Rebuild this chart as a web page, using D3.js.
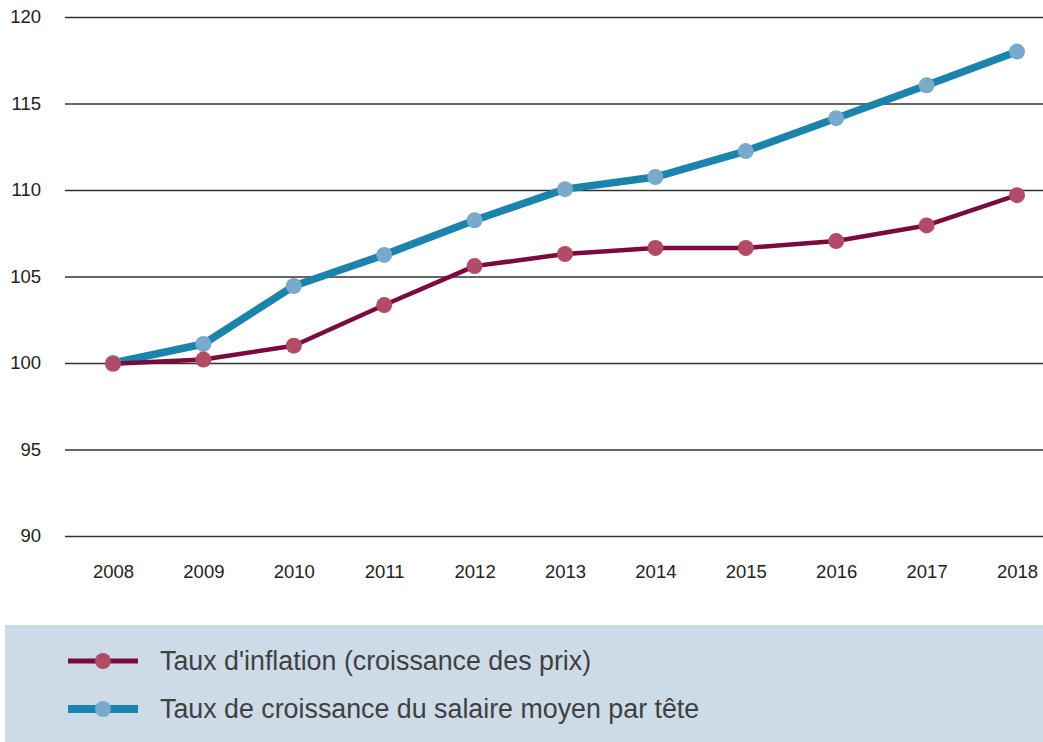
<!DOCTYPE html>
<html><head><meta charset="utf-8">
<script src="https://cdn.jsdelivr.net/npm/d3@7"></script>
<style>body{margin:0;background:#fff;}svg{display:block;font-family:"Liberation Sans",Arial,sans-serif;}</style>
</head><body>
<svg id="c" width="1043" height="742"></svg>
<script>
const years = [2008,2009,2010,2011,2012,2013,2014,2015,2016,2017,2018];
const inflation = [99.95,100.2,101.0,103.35,105.6,106.3,106.65,106.65,107.05,107.95,109.7];
const salaire = [100.0,101.1,104.45,106.25,108.25,110.05,110.75,112.25,114.15,116.05,118.0];
const yTicks = [90,95,100,105,110,115,120];
const labels = ["Taux d'inflation (croissance des prix)","Taux de croissance du salaire moyen par tête"];

const svg = d3.select("#c");
const x = d3.scalePoint().domain(years).range([113,1017]);
const y = d3.scaleLinear().domain([90,120]).range([536,17]);

// grid + y labels
const yAxis = d3.axisLeft(y).tickValues(yTicks).tickSize(-(1043-65)).tickPadding(24);
const gy = svg.append("g").attr("transform","translate(65,0)").call(yAxis);
gy.select(".domain").remove();
gy.selectAll("line").attr("stroke","#333").attr("stroke-width",1.5).attr("x1",0).attr("x2",1043-65);
gy.selectAll("text").attr("font-size",18.5).attr("fill","#222").attr("font-family","Liberation Sans, Arial, sans-serif");

// x labels
const xAxis = d3.axisBottom(x).tickSize(0).tickPadding(0);
const gx = svg.append("g").attr("transform","translate(0,565)").call(xAxis);
gx.select(".domain").remove();
gx.selectAll("text").attr("font-size",18.5).attr("fill","#222").attr("font-family","Liberation Sans, Arial, sans-serif");

const series = [
  {vals: salaire, line:"#1b84ad", mark:"#79a9cb", w:7.5},
  {vals: inflation, line:"#7b0a3d", mark:"#b34a66", w:4.5}
];
const line = d3.line().x((d,i)=>x(years[i])).y(d=>y(d));
series.forEach(s=>{
  svg.append("path").attr("d",line(s.vals)).attr("fill","none").attr("stroke",s.line).attr("stroke-width",s.w).attr("stroke-linejoin","round");
  svg.append("g").selectAll("circle").data(s.vals).join("circle")
    .attr("cx",(d,i)=>x(years[i])).attr("cy",d=>y(d)).attr("r",8).attr("fill",s.mark);
});

// legend
svg.append("rect").attr("x",5).attr("y",625).attr("width",1038).attr("height",117).attr("fill","#cddbe9");
const leg = [
  {label:labels[0], line:"#7b0a3d", mark:"#b34a66", w:5, y:661},
  {label:labels[1], line:"#1b84ad", mark:"#79a9cb", w:8, y:709}
];
leg.forEach(l=>{
  svg.append("line").attr("x1",68).attr("x2",138).attr("y1",l.y).attr("y2",l.y).attr("stroke",l.line).attr("stroke-width",l.w);
  svg.append("circle").attr("cx",103).attr("cy",l.y).attr("r",8).attr("fill",l.mark);
  svg.append("text").attr("x",160).attr("y",l.y).attr("dy","0.35em").attr("font-size",26.8).attr("fill","#404040").text(l.label);
});
</script>
</body></html>
